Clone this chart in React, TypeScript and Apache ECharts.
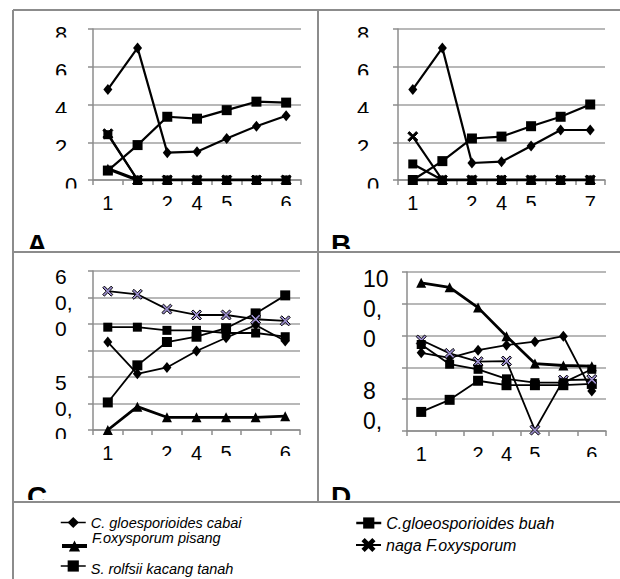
import React, { useEffect, useRef } from 'react';
import * as echarts from 'echarts';

// ---------- categories / tick labels ----------
const xLabelsACD = ['1', '', '2', '4', '5', '', '6'];
const xLabelsB = ['1', '', '2', '4', '5', '', '7'];
const clippedXIdx = [2, 4, 6];

const seriesNames = [
  'C. gloesporioides cabai',
  'C.gloeosporioides buah',
  'F.oxysporum pisang',
  'naga F.oxysporum',
  'S. rolfsii kacang tanah',
];

const yTicksAB = [0, 2, 4, 6, 8];
const yLabelsC: Record<string, string> = { '50': '5\n0,\n0', '60': '6\n0,\n0' };
const yLabelsD: Record<string, string> = { '80': '8\n0,\n\u00a0\n\u00a0', '100': '10\n0,\n0' };
const panelLetters = ['A', 'B', 'C', 'D'];

// ---------- panel A ----------
const cabaiA = [4.8, 7.0, 1.45, 1.5, 2.2, 2.85, 3.4];
const buahA = [0.5, 1.85, 3.35, 3.25, 3.7, 4.15, 4.1];
const pisangA = [0.6, 0, 0, 0, 0, 0, 0];
const nagaA = [2.45, 0, 0, 0, 0, 0, 0];
const rolfsiiA = [2.4, 0, 0, 0, 0, 0, 0];

// ---------- panel B ----------
const cabaiB = [4.8, 7.0, 0.9, 0.97, 1.8, 2.65, 2.65];
const buahB = [0, 1.0, 2.2, 2.3, 2.85, 3.35, 4.0];
const pisangB = [0, 0, 0, 0, 0, 0, 0];
const nagaB = [2.3, 0, 0, 0, 0, 0, 0];
const rolfsiiB = [0.85, 0, 0, 0, 0, 0, 0];

// ---------- panel C ----------
const cabaiC = [55.8, 52.8, 53.4, 54.95, 56.2, 57.4, 55.9];
const buahC = [50.1, 53.6, 55.8, 56.3, 57.1, 58.5, 60.2];
const pisangC = [47.5, 49.7, 48.7, 48.7, 48.7, 48.7, 48.8];
const nagaC = [60.6, 60.3, 58.9, 58.35, 58.35, 57.95, 57.8];
const rolfsiiC = [57.2, 57.2, 56.9, 56.9, 56.65, 56.65, 56.3];

// ---------- panel D ----------
const cabaiD = [92.3, 91.5, 92.7, 93.5, 94.05, 94.9, 86.3];
const buahD = [83.0, 84.9, 87.9, 87.2, 87.2, 87.2, 87.4];
const pisangD = [103.3, 102.6, 99.4, 94.9, 90.6, 90.3, 90.2];
const nagaD = [94.3, 92.2, 90.9, 91.0, 80.15, 88.0, 88.1];
const rolfsiiD = [93.6, 90.5, 89.7, 88.2, 87.6, 87.6, 89.7];

const CROSS = 'path://M0,1.6L1.6,0L5,3.4L8.4,0L10,1.6L6.6,5L10,8.4L8.4,10L5,6.6L1.6,10L0,8.4L3.4,5Z';
const GRAY = '#8c8c8c';
const FONT = '"Liberation Sans", Arial, sans-serif';
const SHIFT = '{s|\u00a0}\n';

export default function App() {
  const ref = useRef<HTMLDivElement>(null);

  useEffect(() => {
    if (!ref.current) return;
    const chart = echarts.init(ref.current, undefined, { renderer: 'svg' });

    const panels = [
      { x: xLabelsACD, d: [cabaiA, buahA, pisangA, nagaA, rolfsiiA], min: 0, max: 8, interval: 2, lw: 2.2, crossColor: '#000' },
      { x: xLabelsB, d: [cabaiB, buahB, pisangB, nagaB, rolfsiiB], min: 0, max: 8, interval: 2, lw: 2.2, crossColor: '#000' },
      { x: xLabelsACD, d: [cabaiC, buahC, pisangC, nagaC, rolfsiiC], min: 47.5, max: 62.5, interval: 2.5, lw: 1.8, crossColor: '#9d8fd0' },
      { x: xLabelsACD, d: [cabaiD, buahD, pisangD, nagaD, rolfsiiD], min: 80, max: 105, interval: 5, lw: 1.8, crossColor: '#9d8fd0' },
    ];

    const grids = [
      { left: 93, top: 29, width: 208, height: 151 },
      { left: 398, top: 29, width: 207, height: 151 },
      { left: 93, top: 271, width: 207, height: 159 },
      { left: 407, top: 272, width: 199, height: 159 },
    ];

    const symbols = [
      { symbol: 'diamond', size: [9, 11] },
      { symbol: 'rect', size: 10 },
      { symbol: 'triangle', size: 10 },
      { symbol: CROSS, size: 10 },
      { symbol: 'rect', size: 9 },
    ];

    const fmtAB = (v: number) => {
      if (!yTicksAB.includes(v)) return '';
      return v === 0 ? SHIFT + '{z|0}' : SHIFT + String(v);
    };
    const fmtMap = (m: Record<string, string>) => (v: number) => {
      const t = m[String(Math.round(v * 100) / 100)];
      return t ? SHIFT + t : '';
    };

    const yLabelCfg = [
      { fmt: fmtAB, fontSize: 22, lineHeight: 22, align: 'center', margin: 32 },
      { fmt: fmtAB, fontSize: 22, lineHeight: 22, align: 'center', margin: 35 },
      { fmt: fmtMap(yLabelsC), fontSize: 21, lineHeight: 26, align: 'left', margin: 38 },
      { fmt: fmtMap(yLabelsD), fontSize: 23, lineHeight: 30, align: 'left', margin: 44 },
    ];

    const xAxis = panels.map((p, i) => ({
      type: 'category',
      gridIndex: i,
      data: p.x,
      boundaryGap: true,
      axisLine: { lineStyle: { color: GRAY, width: 1.5 } },
      axisTick: { show: true, interval: 0, length: 5, lineStyle: { color: GRAY, width: 1.5 } },
      axisLabel: { interval: 0, fontSize: 20, color: '#000', margin: 13, fontFamily: FONT },
      splitLine: { show: false },
    }));

    const yAxis = panels.map((p, i) => ({
      type: 'value',
      gridIndex: i,
      min: p.min,
      max: p.max,
      interval: p.interval,
      axisLine: { show: true, lineStyle: { color: GRAY, width: 1.5 } },
      axisTick: { show: true, length: 5, lineStyle: { color: GRAY, width: 1.5 } },
      splitLine: { show: true, lineStyle: { color: '#a0a0a0', width: 1.6 } },
      axisLabel: {
        formatter: yLabelCfg[i].fmt,
        fontSize: yLabelCfg[i].fontSize,
        lineHeight: yLabelCfg[i].lineHeight,
        align: yLabelCfg[i].align,
        margin: yLabelCfg[i].margin,
        color: '#000',
        fontFamily: FONT,
        showMinLabel: true,
        showMaxLabel: true,
        rich: {
          s: { fontSize: 1, lineHeight: 10 },
          z: { padding: [0, 0, 0, 20] },
        },
      },
    }));

    const series: any[] = [];
    panels.forEach((p, gi) => {
      p.d.forEach((vals, si) => {
        const isCross = si === 3;
        series.push({
          type: 'line',
          name: seriesNames[si],
          xAxisIndex: gi,
          yAxisIndex: gi,
          data: vals,
          symbol: symbols[si].symbol,
          symbolSize: symbols[si].size,
          showAllSymbol: true,
          lineStyle: { color: '#000', width: si === 2 ? p.lw + 1 : p.lw },
          itemStyle: isCross
            ? { color: p.crossColor, borderColor: '#000', borderWidth: 1 }
            : { color: '#000' },
          emphasis: { disabled: true },
          z: si === 2 ? 3 : 2,
        });
      });
    });

    // legend items: text offset relative to icon done with a rich spacer line
    const legendCfg = [
      { idx: 0, left: 60, top: 515, fontSize: 14.5, lw: 1.5, pre: '', post: '' },
      { idx: 1, left: 355, top: 515, fontSize: 16, lw: 2.5, pre: '', post: '' },
      { idx: 2, left: 60, top: 530.5, fontSize: 14.5, lw: 4, pre: '', post: '\n{s|\u00a0}' },
      { idx: 3, left: 355, top: 537, fontSize: 16, lw: 2, pre: '', post: '' },
      { idx: 4, left: 60, top: 555.5, fontSize: 14.5, lw: 1.5, pre: '{t|\u00a0}\n', post: '' },
    ];

    const legend = legendCfg.map((l) => ({
      left: l.left,
      top: l.top,
      padding: 0,
      itemGap: 0,
      itemWidth: 25,
      itemHeight: 14,
      selectedMode: false,
      formatter: (name: string) => l.pre + name + l.post,
      data: [
        {
          name: seriesNames[l.idx],
          itemStyle: { color: '#000', borderColor: '#000' },
          lineStyle: { color: '#000', width: l.lw },
        },
      ],
      textStyle: {
        fontSize: l.fontSize,
        lineHeight: 15,
        fontStyle: 'italic',
        color: '#000',
        fontFamily: FONT,
        rich: { s: { fontSize: 1, lineHeight: 16 }, t: { fontSize: 1, lineHeight: 6 } },
      },
    }));

    chart.setOption({
      animation: false,
      textStyle: { fontFamily: FONT },
      grid: grids,
      xAxis,
      yAxis,
      series,
      legend,
    });

    // ---- decorations: frame lines, panel letters, and clipping masks ----
    const els: any[] = [];
    const mask = (x: number, y: number, w: number, h: number) =>
      els.push({ type: 'rect', z: 100, silent: true, shape: { x, y, width: w, height: h }, style: { fill: '#fff' } });

    const letterPos = [
      { x: 27, y: 244, clip: 249 },
      { x: 331, y: 244, clip: 249 },
      { x: 27, y: 496, clip: 500 },
      { x: 331, y: 496, clip: 500 },
    ];
    letterPos.forEach((lp, i) => {
      els.push({
        type: 'text',
        z: 50,
        x: lp.x,
        y: lp.y,
        style: { text: panelLetters[i], font: `bold 28px ${FONT}`, fill: '#000', verticalAlign: 'middle', textAlign: 'left' },
      });
      mask(lp.x - 6, lp.clip, 40, 14);
    });

    // x label clipping (labels 2,5,6/7 are cut at their bottom)
    panels.forEach((p, gi) => {
      clippedXIdx.forEach((ci) => {
        const pt = chart.convertToPixel({ gridIndex: gi }, [ci, p.min]) as number[];
        if (pt) mask(pt[0] - 12, pt[1] + 26, 24, 16);
      });
    });

    // y label clipping for A, B
    [0, 1].forEach((gi) => {
      yTicksAB.forEach((v) => {
        const pt = chart.convertToPixel({ gridIndex: gi }, [0, v]) as number[];
        if (pt) mask(grids[gi].left - 58, pt[1] + 8.5, 50, 7);
      });
    });
    {
      const pt = chart.convertToPixel({ gridIndex: 2 }, [0, 47.5]) as number[];
      if (pt) mask(grids[2].left - 58, pt[1] + 9, 50, 8);
    }

    const line = (x1: number, y1: number, x2: number, y2: number) =>
      els.push({ type: 'line', z: 200, silent: true, shape: { x1, y1, x2, y2 }, style: { stroke: GRAY, lineWidth: 2 } });
    line(13, 10, 620, 10);
    line(13, 10, 13, 579);
    line(318, 10, 318, 502);
    line(13, 252, 620, 252);
    line(13, 502, 620, 502);

    chart.setOption({ graphic: { elements: els } });

    return () => chart.dispose();
  }, []);

  return (
    <div
      ref={ref}
      style={{ position: 'absolute', left: 0, top: 0, width: 620, height: 579, background: '#fff' }}
    />
  );
}
